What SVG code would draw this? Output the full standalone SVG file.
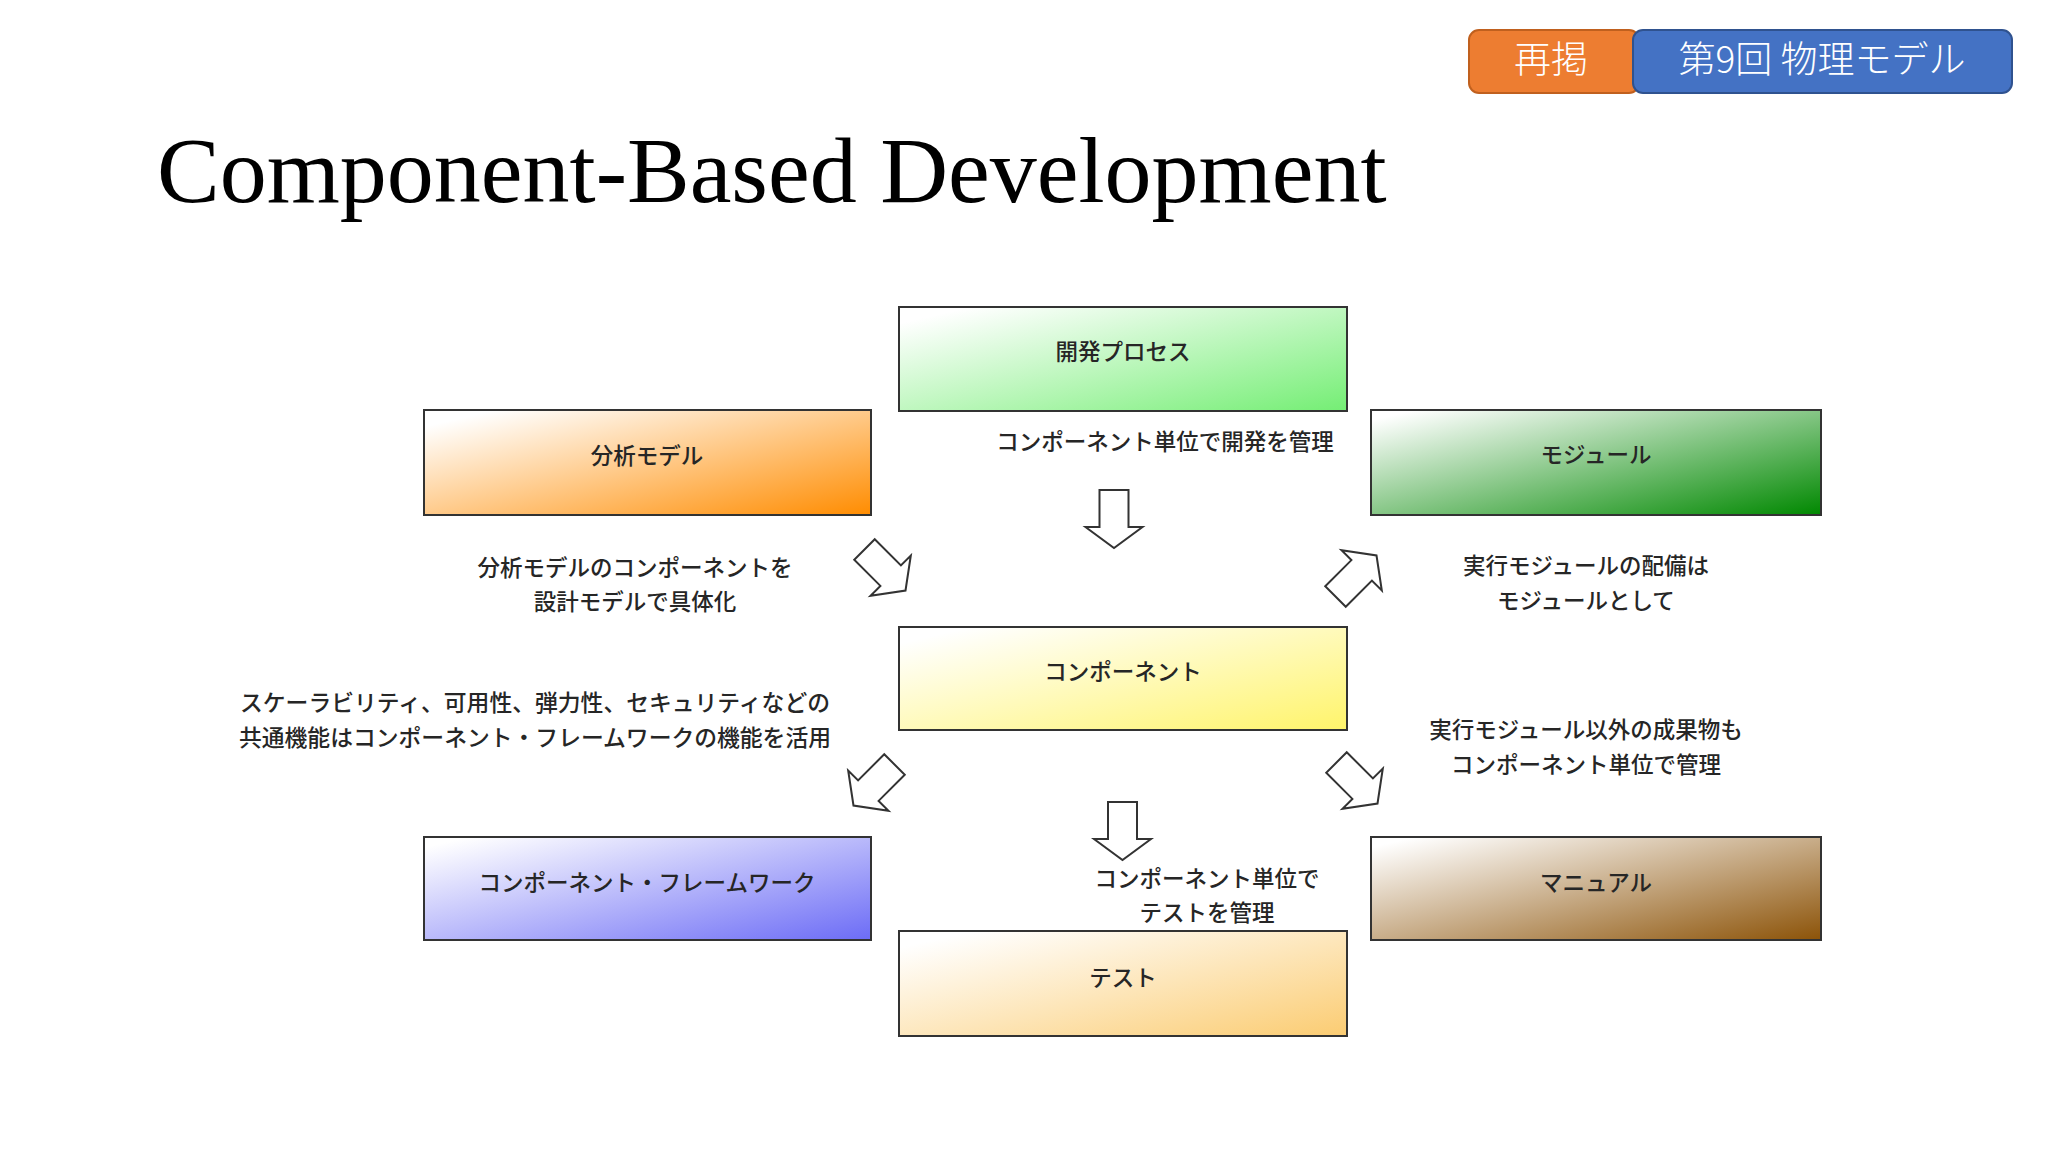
<svg xmlns="http://www.w3.org/2000/svg" width="2048" height="1152" viewBox="0 0 2048 1152">
  <defs>
    <style>
      .box { stroke: #333; stroke-width: 2; }
      .lbl { font-family: "Noto Sans CJK JP", "Noto Sans", sans-serif; font-size: 22.5px; font-weight: 500; fill: #262626; text-anchor: middle; }
      .wide { font-size: 22.8px; }
      .badge { font-family: "Noto Sans CJK JP", "Noto Sans", sans-serif; font-size: 37px; font-weight: 300; fill: #ffffff; text-anchor: middle; }
      .arrow { fill: #ffffff; stroke: #333; stroke-width: 2; stroke-linejoin: miter; }
    </style>
    <linearGradient id="gGreenL" x1="0" y1="0" x2="1" y2="1">
      <stop offset="0.08" stop-color="#ffffff"/>
      <stop offset="1" stop-color="#74ee74"/>
    </linearGradient>
    <linearGradient id="gOrange" x1="0" y1="0" x2="1" y2="1">
      <stop offset="0.08" stop-color="#ffffff"/>
      <stop offset="1" stop-color="#ff8c00"/>
    </linearGradient>
    <linearGradient id="gGreenD" x1="0" y1="0" x2="1" y2="1">
      <stop offset="0.05" stop-color="#ffffff"/>
      <stop offset="1" stop-color="#008800"/>
    </linearGradient>
    <linearGradient id="gYellow" x1="0" y1="0" x2="1" y2="1">
      <stop offset="0.08" stop-color="#ffffff"/>
      <stop offset="1" stop-color="#fff46a"/>
    </linearGradient>
    <linearGradient id="gBlue" x1="0" y1="0" x2="1" y2="1">
      <stop offset="0.05" stop-color="#ffffff"/>
      <stop offset="1" stop-color="#6c6cf6"/>
    </linearGradient>
    <linearGradient id="gBrown" x1="0" y1="0" x2="1" y2="1">
      <stop offset="0.05" stop-color="#ffffff"/>
      <stop offset="1" stop-color="#8c5308"/>
    </linearGradient>
    <linearGradient id="gTest" x1="0" y1="0" x2="1" y2="1">
      <stop offset="0.08" stop-color="#ffffff"/>
      <stop offset="1" stop-color="#fbcc72"/>
    </linearGradient>
    <path id="blk" d="M-29,-14.5 H8 V-28.5 L29,0 L8,28.5 V14.5 H-29 Z"/>
  </defs>

  <rect width="2048" height="1152" fill="#ffffff"/>

  <!-- badges -->
  <g id="badge-saikei">
    <rect x="1469" y="30" width="170" height="63" rx="10" fill="#ed7d31" stroke="#c0601e" stroke-width="2"/>
    <text class="badge" x="1551" y="73">再掲</text>
  </g>
  <g id="badge-lecture">
    <rect x="1633" y="30" width="379" height="63" rx="10" fill="#4472c4" stroke="#2f528f" stroke-width="2"/>
    <text class="badge" x="1822" y="73">第9回 物理モデル</text>
  </g>

  <!-- title -->
  <text id="title" x="157" y="202" font-family="Liberation Serif, 'Times New Roman', serif" font-size="94" fill="#000000">Component-Based Development</text>

  <!-- nodes -->
  <g id="node-process">
    <rect class="box" x="899" y="307" width="448" height="104" fill="url(#gGreenL)"/>
    <text class="lbl" x="1123" y="360">開発プロセス</text>
  </g>
  <g id="node-analysis">
    <rect class="box" x="424" y="410" width="447" height="105" fill="url(#gOrange)"/>
    <text class="lbl" x="647" y="464">分析モデル</text>
  </g>
  <g id="node-module">
    <rect class="box" x="1371" y="410" width="450" height="105" fill="url(#gGreenD)"/>
    <text class="lbl" x="1596" y="463">モジュール</text>
  </g>
  <g id="node-component">
    <rect class="box" x="899" y="627" width="448" height="103" fill="url(#gYellow)"/>
    <text class="lbl" x="1123" y="680">コンポーネント</text>
  </g>
  <g id="node-framework">
    <rect class="box" x="424" y="837" width="447" height="103" fill="url(#gBlue)"/>
    <text class="lbl" x="647" y="891">コンポーネント・フレームワーク</text>
  </g>
  <g id="node-manual">
    <rect class="box" x="1371" y="837" width="450" height="103" fill="url(#gBrown)"/>
    <text class="lbl" x="1596" y="891">マニュアル</text>
  </g>
  <g id="node-test">
    <rect class="box" x="899" y="931" width="448" height="105" fill="url(#gTest)"/>
    <text class="lbl" x="1123" y="986">テスト</text>
  </g>

  <!-- connectors -->
  <g id="connectors">
    <use href="#blk" class="arrow" transform="translate(1114,519) rotate(90)"/>
    <use href="#blk" class="arrow" transform="translate(885,570) rotate(45)"/>
    <use href="#blk" class="arrow" transform="translate(1356,576) rotate(-45)"/>
    <use href="#blk" class="arrow" transform="translate(874,785) rotate(135)"/>
    <use href="#blk" class="arrow" transform="translate(1357,783) rotate(45)"/>
    <use href="#blk" class="arrow" transform="translate(1122.5,831) rotate(90)"/>
  </g>

  <!-- connector labels -->
  <g id="labels">
    <text class="lbl" x="1165" y="450">コンポーネント単位で開発を管理</text>
    <text class="lbl" x="635" y="576">分析モデルのコンポーネントを</text>
    <text class="lbl" x="635" y="610">設計モデルで具体化</text>
    <text class="lbl" x="1586" y="574">実行モジュールの配備は</text>
    <text class="lbl" x="1586" y="609">モジュールとして</text>
    <text class="lbl wide" x="535" y="711">スケーラビリティ、可用性、弾力性、セキュリティなどの</text>
    <text class="lbl wide" x="535" y="746">共通機能はコンポーネント・フレームワークの機能を活用</text>
    <text class="lbl" x="1586" y="738">実行モジュール以外の成果物も</text>
    <text class="lbl" x="1586" y="773">コンポーネント単位で管理</text>
    <text class="lbl" x="1207" y="887">コンポーネント単位で</text>
    <text class="lbl" x="1207" y="921">テストを管理</text>
  </g>
</svg>
